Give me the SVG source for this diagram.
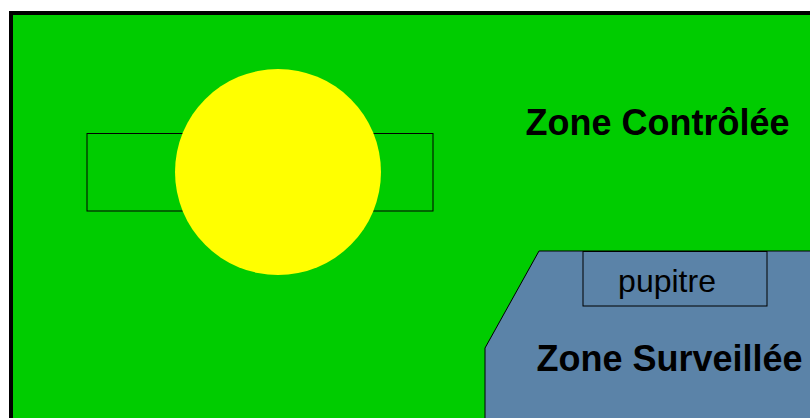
<svg xmlns="http://www.w3.org/2000/svg" width="810" height="418" viewBox="0 0 810 418">
<style>
.t{font-family:"Liberation Sans",Arial,sans-serif;fill:#000}
.b{font-weight:bold;font-size:36px}
.box{fill:none;stroke:#000;stroke-width:1}
</style>
<rect width="810" height="418" fill="#fff"/>
<g id="zone-controlee">
<rect x="11" y="13" width="820" height="430" fill="#00cc00" stroke="#000" stroke-width="4"/>
<text class="t b" x="657.5" y="135" text-anchor="middle">Zone Contrôlée</text>
</g>
<g id="reacteur">
<rect class="box" x="87" y="133.5" width="346" height="77.5"/>
<circle cx="278" cy="172" r="103" fill="#ffff00"/>
</g>
<g id="zone-surveillee">
<path d="M539,251 L815,251 L815,425 L485,425 L485,348 Z" fill="#5b83a8" stroke="#000" stroke-width="1"/>
<text class="t b" x="669.5" y="371" text-anchor="middle">Zone Surveillée</text>
</g>
<g id="pupitre">
<rect class="box" x="583" y="251.5" width="184" height="54.5" stroke="#222"/>
<text class="t" x="667" y="292" text-anchor="middle" font-size="32">pupitre</text>
</g>
<g id="connectors"/>
</svg>
